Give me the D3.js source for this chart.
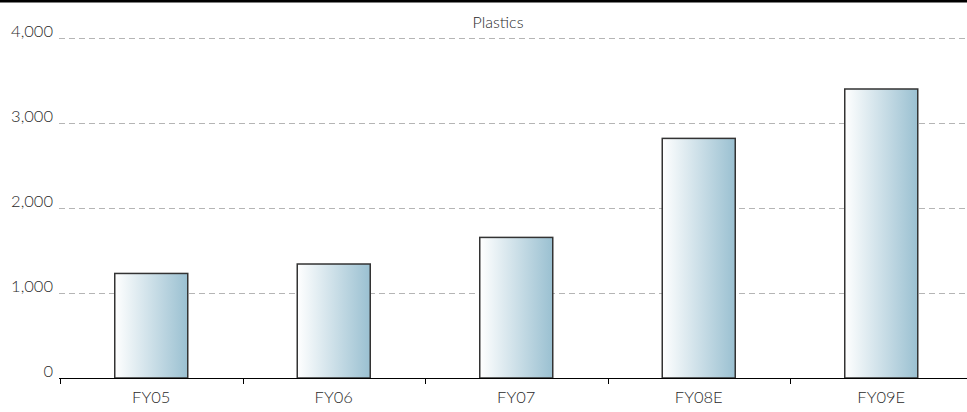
<!DOCTYPE html>
<html>
<head>
<meta charset="utf-8">
<script src="https://cdn.jsdelivr.net/npm/d3@7"></script>
<style>
  html, body { margin: 0; padding: 0; background: #fff; }
  svg { display: block; }
  text { font-family: Lato, "Open Sans", sans-serif; fill: #2a2a2a; }
</style>
</head>
<body>
<svg id="chart" width="967" height="412"></svg>
<script>
// Plastics revenue by fiscal year
const title = "Plastics";
const categories = ["FY05", "FY06", "FY07", "FY08E", "FY09E"];
const values = [1230, 1341, 1654, 2819, 3400];
const yTicks = [0, 1000, 2000, 3000, 4000];

const W = 967, H = 412;
const svg = d3.select("#chart");

const x = d3.scaleBand().domain(categories).range([60, 972.5]).padding(0);
const y = d3.scaleLinear().domain([0, 4000]).range([378, 38]);

// top rule
svg.append("rect").attr("x", 0).attr("y", 0).attr("width", W).attr("height", 2.5).attr("fill", "#000");

// gradient fill for bars
const defs = svg.append("defs");
const grad = defs.append("linearGradient").attr("id", "barGrad")
  .attr("x1", "0%").attr("x2", "100%").attr("y1", "0%").attr("y2", "0%");
grad.append("stop").attr("offset", "0%").attr("stop-color", "#ffffff");
grad.append("stop").attr("offset", "100%").attr("stop-color", "#9ac0d1");

// gridlines
svg.append("g").selectAll("line")
  .data(yTicks.filter(d => d > 0))
  .join("line")
  .attr("x1", 59).attr("x2", W)
  .attr("y1", d => Math.round(y(d)) + 0.5).attr("y2", d => Math.round(y(d)) + 0.5)
  .attr("stroke", "#b5b5b5").attr("stroke-width", 1)
  .attr("stroke-dasharray", "6,4");

// y labels
svg.append("g").selectAll("text")
  .data(yTicks)
  .join("text")
  .attr("x", 53).attr("y", d => y(d) - 1)
  .attr("text-anchor", "end")
  .attr("font-size", 16.5)
  .attr("font-weight", 300)
  .text(d => d3.format(",")(d));

// bars
const barW = x.bandwidth() * 0.4;
svg.append("g").selectAll("rect")
  .data(values)
  .join("rect")
  .attr("x", (d, i) => x(categories[i]) + (x.bandwidth() - barW) / 2)
  .attr("y", d => y(d))
  .attr("width", barW)
  .attr("height", d => y(0) - y(d))
  .attr("fill", "url(#barGrad)")
  .attr("stroke", "#333")
  .attr("stroke-width", 1.5);

// x axis
const xAxis = svg.append("g");
xAxis.append("line").attr("x1", 59).attr("x2", W).attr("y1", 378.5).attr("y2", 378.5)
  .attr("stroke", "#000").attr("stroke-width", 1);
xAxis.selectAll("line.tick")
  .data(categories)
  .join("line").attr("class", "tick")
  .attr("x1", d => Math.round(x(d)) + 0.5).attr("x2", d => Math.round(x(d)) + 0.5)
  .attr("y1", 378).attr("y2", 384)
  .attr("stroke", "#000").attr("stroke-width", 1);
xAxis.selectAll("text")
  .data(categories)
  .join("text")
  .attr("x", d => x(d) + x.bandwidth() / 2)
  .attr("y", 403)
  .attr("text-anchor", "middle")
  .attr("font-size", 16.5)
  .attr("font-weight", 300)
  .text(d => d);

// title
svg.append("text")
  .attr("x", 498).attr("y", 28)
  .attr("text-anchor", "middle")
  .attr("font-size", 16)
  .attr("font-weight", 300)
  .text(title);
</script>
</body>
</html>
